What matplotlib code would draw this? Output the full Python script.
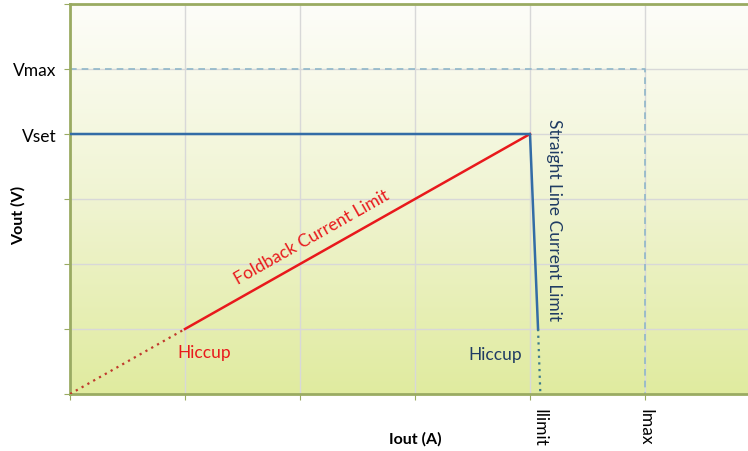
import matplotlib
matplotlib.use("Agg")
import matplotlib.pyplot as plt
import matplotlib.transforms as mtransforms
import numpy as np
from matplotlib.colors import LinearSegmentedColormap

# grid positions (axis units)
x_grid = [0, 1, 2, 3, 4, 5]
y_grid = [0, 1, 2, 3, 4, 5, 6]

# tick labels on the grid positions
x_labels = ["", "", "", "", "Ilimit", "Imax"]
y_labels = ["", "", "", "", "Vset", "Vmax", ""]

# straight line current limit (blue)
straight_x = [0, 4, 4.07]
straight_y = [4, 4, 1]
straight_hiccup_x = [4.07, 4.09]
straight_hiccup_y = [1, 0]

# foldback current limit (red)
foldback_x = [1, 4]
foldback_y = [1, 4]
foldback_hiccup_x = [0, 1]
foldback_hiccup_y = [0, 1]

# Vmax / Imax boundary
max_x = [0, 5, 5]
max_y = [5, 5, 0]

plt.rcParams['font.family'] = ['Lato', 'DejaVu Sans']

olive = "#9aab62"
blue = "#336ca6"
red = "#e8191c"
navy = "#1f3b63"
fs = 12.5

fig = plt.figure(figsize=(7.48, 4.52), dpi=100)
ax = fig.add_axes([70 / 748, 57 / 452, 678 / 748, 390 / 452])
xmax = 678 / 115
ax.set_xlim(0, xmax)
ax.set_ylim(0, 6)

# background gradient
cmap = LinearSegmentedColormap.from_list("bg", ["#e0eb9f", "#f0f4d2", "#fdfdf9"])
grad = np.linspace(0, 1, 256).reshape(-1, 1)
ax.imshow(grad, cmap=cmap, aspect="auto", origin="lower",
          extent=[0, xmax, 0, 6], zorder=0)

for gx in x_grid:
    ax.axvline(gx, color="#d8d8d8", lw=1, zorder=1)
for gy in y_grid:
    ax.axhline(gy, color="#d8d8d8", lw=1, zorder=1)

ax.plot(max_x, max_y, color="#8fb6c9", lw=1.2, ls=(0, (4, 3)), zorder=2)
ax.plot(foldback_hiccup_x, foldback_hiccup_y, color="#c0392b", lw=1.6,
        ls=(0, (1, 2)), zorder=3)
ax.plot(foldback_x, foldback_y, color=red, lw=1.8, zorder=3)
ax.plot(straight_x, straight_y, color=blue, lw=1.8, zorder=4)
ax.plot(straight_hiccup_x, straight_hiccup_y, color="#3a7a8c", lw=1.6,
        ls=(0, (1, 2)), zorder=4)

# annotations
ax.text(2.10, 2.42, "Foldback Current Limit", color=red, fontsize=fs,
        rotation=29.5, rotation_mode="anchor", ha="center", va="center")
ax.text(1.17, 0.65, "Hiccup", color=red, fontsize=fs, ha="center", va="center")
ax.text(3.70, 0.62, "Hiccup", color=navy, fontsize=fs, ha="center", va="center")
ax.text(4.21, 2.69, "Straight Line Current Limit", color=navy, fontsize=fs,
        rotation=-90, ha="center", va="center")

# ticks
ax.set_xticks(x_grid)
ax.set_xticklabels(x_labels, rotation=-90, fontsize=fs)
ax.set_yticks(y_grid)
ax.set_yticklabels(y_labels, fontsize=fs)
ax.tick_params(length=4, color=olive, direction="out", pad=6)
# Ilimit label sits a little right of its grid line
lbl = ax.get_xticklabels()[4]
lbl.set_transform(lbl.get_transform() +
                  mtransforms.ScaledTranslation(9 / 100, 0, fig.dpi_scale_trans))

for side in ["left", "bottom", "top"]:
    ax.spines[side].set_color(olive)
    ax.spines[side].set_linewidth(2)
ax.spines["right"].set_visible(False)

fig.text(18 / 748, 1 - 215 / 452, "Vout (V)", rotation=90, fontsize=11.5,
         fontweight="bold", ha="center", va="center")
fig.text(415 / 748, 1 - 439 / 452, "Iout (A)", fontsize=11.5,
         fontweight="bold", ha="center", va="center")

fig.savefig("out.png", dpi=100)
